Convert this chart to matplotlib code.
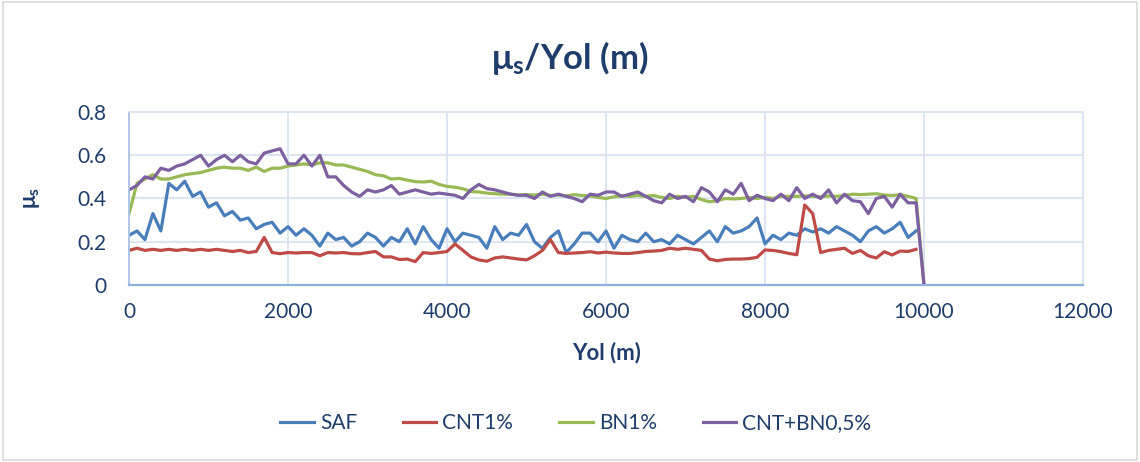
import numpy as np
import matplotlib
matplotlib.use("Agg")
import matplotlib.pyplot as plt
from matplotlib.patches import Rectangle

plt.rcParams['font.family'] = ['Lato', 'DejaVu Sans']
plt.rcParams['mathtext.fontset'] = 'custom'
plt.rcParams['mathtext.rm'] = 'Lato'
plt.rcParams['mathtext.bf'] = 'Lato:bold'
plt.rcParams['mathtext.it'] = 'Lato:italic'

# friction coefficient read every 100 m
step = 100

saf = [0.23, 0.25, 0.21, 0.33, 0.25, 0.47, 0.44, 0.48, 0.41, 0.43,
       0.36, 0.38, 0.32, 0.34, 0.30, 0.31, 0.26, 0.28, 0.29, 0.24,
       0.27, 0.23, 0.26, 0.23, 0.18, 0.24, 0.21, 0.22, 0.18, 0.20,
       0.24, 0.22, 0.18, 0.22, 0.20, 0.26, 0.19, 0.27, 0.21, 0.17,
       0.26, 0.20, 0.24, 0.23, 0.22, 0.17, 0.27, 0.21, 0.24, 0.23,
       0.28, 0.20, 0.17, 0.22, 0.25, 0.15, 0.19, 0.24, 0.24, 0.20,
       0.25, 0.17, 0.23, 0.21, 0.20, 0.24, 0.20, 0.21, 0.19, 0.23,
       0.21, 0.19, 0.22, 0.25, 0.20, 0.27, 0.24, 0.25, 0.27, 0.31,
       0.19, 0.23, 0.21, 0.24, 0.23, 0.26, 0.245, 0.26, 0.24, 0.27,
       0.25, 0.23, 0.20, 0.25, 0.27, 0.24, 0.26, 0.29, 0.22, 0.25]

cnt = [0.16, 0.17, 0.16, 0.165, 0.16, 0.165, 0.16, 0.165, 0.16, 0.165,
       0.16, 0.165, 0.16, 0.155, 0.16, 0.15, 0.155, 0.22, 0.15, 0.145,
       0.15, 0.148, 0.15, 0.15, 0.135, 0.15, 0.148, 0.15, 0.145, 0.144,
       0.15, 0.155, 0.13, 0.13, 0.118, 0.12, 0.108, 0.15, 0.146, 0.15,
       0.155, 0.19, 0.16, 0.13, 0.116, 0.11, 0.125, 0.13, 0.125, 0.12,
       0.116, 0.135, 0.16, 0.21, 0.15, 0.146, 0.148, 0.15, 0.154, 0.148,
       0.152, 0.148, 0.146, 0.146, 0.15, 0.155, 0.157, 0.16, 0.17, 0.165,
       0.17, 0.165, 0.16, 0.12, 0.112, 0.118, 0.12, 0.12, 0.122, 0.128,
       0.162, 0.16, 0.154, 0.146, 0.14, 0.37, 0.33, 0.15, 0.16, 0.165,
       0.17, 0.146, 0.16, 0.135, 0.125, 0.154, 0.139, 0.157, 0.155, 0.165]

bn = [0.33, 0.47, 0.49, 0.51, 0.49, 0.49, 0.50, 0.51, 0.515, 0.52,
      0.53, 0.54, 0.545, 0.54, 0.54, 0.53, 0.545, 0.525, 0.54, 0.54,
      0.55, 0.555, 0.56, 0.555, 0.565, 0.565, 0.555, 0.555, 0.545, 0.535,
      0.525, 0.51, 0.505, 0.49, 0.493, 0.485, 0.478, 0.476, 0.48, 0.465,
      0.456, 0.452, 0.445, 0.432, 0.43, 0.425, 0.422, 0.42, 0.42, 0.416,
      0.418, 0.416, 0.42, 0.414, 0.416, 0.412, 0.418, 0.414, 0.412, 0.405,
      0.40, 0.408, 0.412, 0.41, 0.414, 0.41, 0.414, 0.405, 0.40, 0.41,
      0.405, 0.41, 0.395, 0.385, 0.39, 0.40, 0.398, 0.40, 0.405, 0.40,
      0.405, 0.40, 0.41, 0.41, 0.41, 0.412, 0.41, 0.408, 0.412, 0.41,
      0.414, 0.42, 0.418, 0.42, 0.422, 0.416, 0.414, 0.418, 0.41, 0.40,
      0.0]

cnt_bn = [0.44, 0.46, 0.50, 0.49, 0.54, 0.53, 0.55, 0.56, 0.58, 0.60,
          0.55, 0.58, 0.60, 0.57, 0.60, 0.57, 0.56, 0.61, 0.62, 0.63,
          0.56, 0.56, 0.60, 0.55, 0.60, 0.50, 0.50, 0.46, 0.43, 0.41,
          0.44, 0.43, 0.44, 0.46, 0.42, 0.43, 0.44, 0.43, 0.42, 0.425,
          0.42, 0.415, 0.40, 0.44, 0.465, 0.446, 0.44, 0.43, 0.42, 0.415,
          0.415, 0.40, 0.43, 0.41, 0.42, 0.41, 0.40, 0.385, 0.42, 0.415,
          0.43, 0.43, 0.41, 0.42, 0.43, 0.41, 0.39, 0.38, 0.42, 0.40,
          0.41, 0.385, 0.45, 0.43, 0.385, 0.44, 0.42, 0.47, 0.39, 0.415,
          0.40, 0.39, 0.42, 0.39, 0.45, 0.40, 0.42, 0.40, 0.44, 0.38,
          0.42, 0.39, 0.385, 0.33, 0.40, 0.41, 0.36, 0.42, 0.38, 0.38,
          0.0]

labels = ['SAF', 'CNT1%', 'BN1%', 'CNT+BN0,5%']
colors = ['#4A7EBB', '#BE4B48', '#98B954', '#7D60A0']
series = [saf, cnt, bn, cnt_bn]

text_col = '#1F3D6B'
grid_col = '#D9E3F1'

fig = plt.figure(figsize=(11.4, 4.62), dpi=100)
ax = fig.add_axes([0.1132, 0.3831, 0.8368, 0.3745])

for vals, lab, col in zip(series, labels, colors):
    x = np.arange(len(vals)) * step
    ax.plot(x, vals, color=col, lw=2.3, label=lab, solid_joinstyle='round')

ax.set_xlim(0, 12000)
ax.set_ylim(0, 0.8)
ax.set_xticks(np.arange(0, 12001, 2000))
ax.set_yticks([0, 0.2, 0.4, 0.6, 0.8])
ax.set_yticklabels(['0', '0.2', '0.4', '0.6', '0.8'])
ax.grid(True, color=grid_col, lw=1.3)
ax.set_axisbelow(True)
for s in ['top', 'right']:
    ax.spines[s].set_color(grid_col)
    ax.spines[s].set_linewidth(1.3)
ax.spines['bottom'].set_color('#8DB1DE')
ax.spines['bottom'].set_linewidth(1.6)
ax.spines['left'].set_color('#A9C2E6')
ax.spines['left'].set_linewidth(1.3)
ax.tick_params(axis='both', length=0, labelsize=15, labelcolor=text_col)
ax.tick_params(axis='y', pad=16)
ax.tick_params(axis='x', pad=12)

fig.text(0.5, 0.874, r'$\mathbf{μ_s}$/Yol (m)', ha='center', va='center',
         fontsize=25, fontweight='bold', color=text_col)
fig.text(0.532, 0.236, 'Yol (m)', ha='center', va='center',
         fontsize=16, fontweight='bold', color=text_col)
fig.text(0.028, 0.571, r'$\mathbf{μ_s}$', ha='center', va='center',
         rotation=90, fontsize=16, color=text_col)

leg = fig.legend(loc='center', bbox_to_anchor=(0.505, 0.084), ncol=4,
                 frameon=False, fontsize=15, handlelength=1.6,
                 handletextpad=0.3, columnspacing=2.2)
for t in leg.get_texts():
    t.set_color(text_col)

fig.patches.append(Rectangle((0.003, 0.005), 0.994, 0.99, transform=fig.transFigure,
                             fill=False, edgecolor='#D9D9D9', lw=1.2))

fig.savefig('out.png', dpi=100, facecolor='white')
